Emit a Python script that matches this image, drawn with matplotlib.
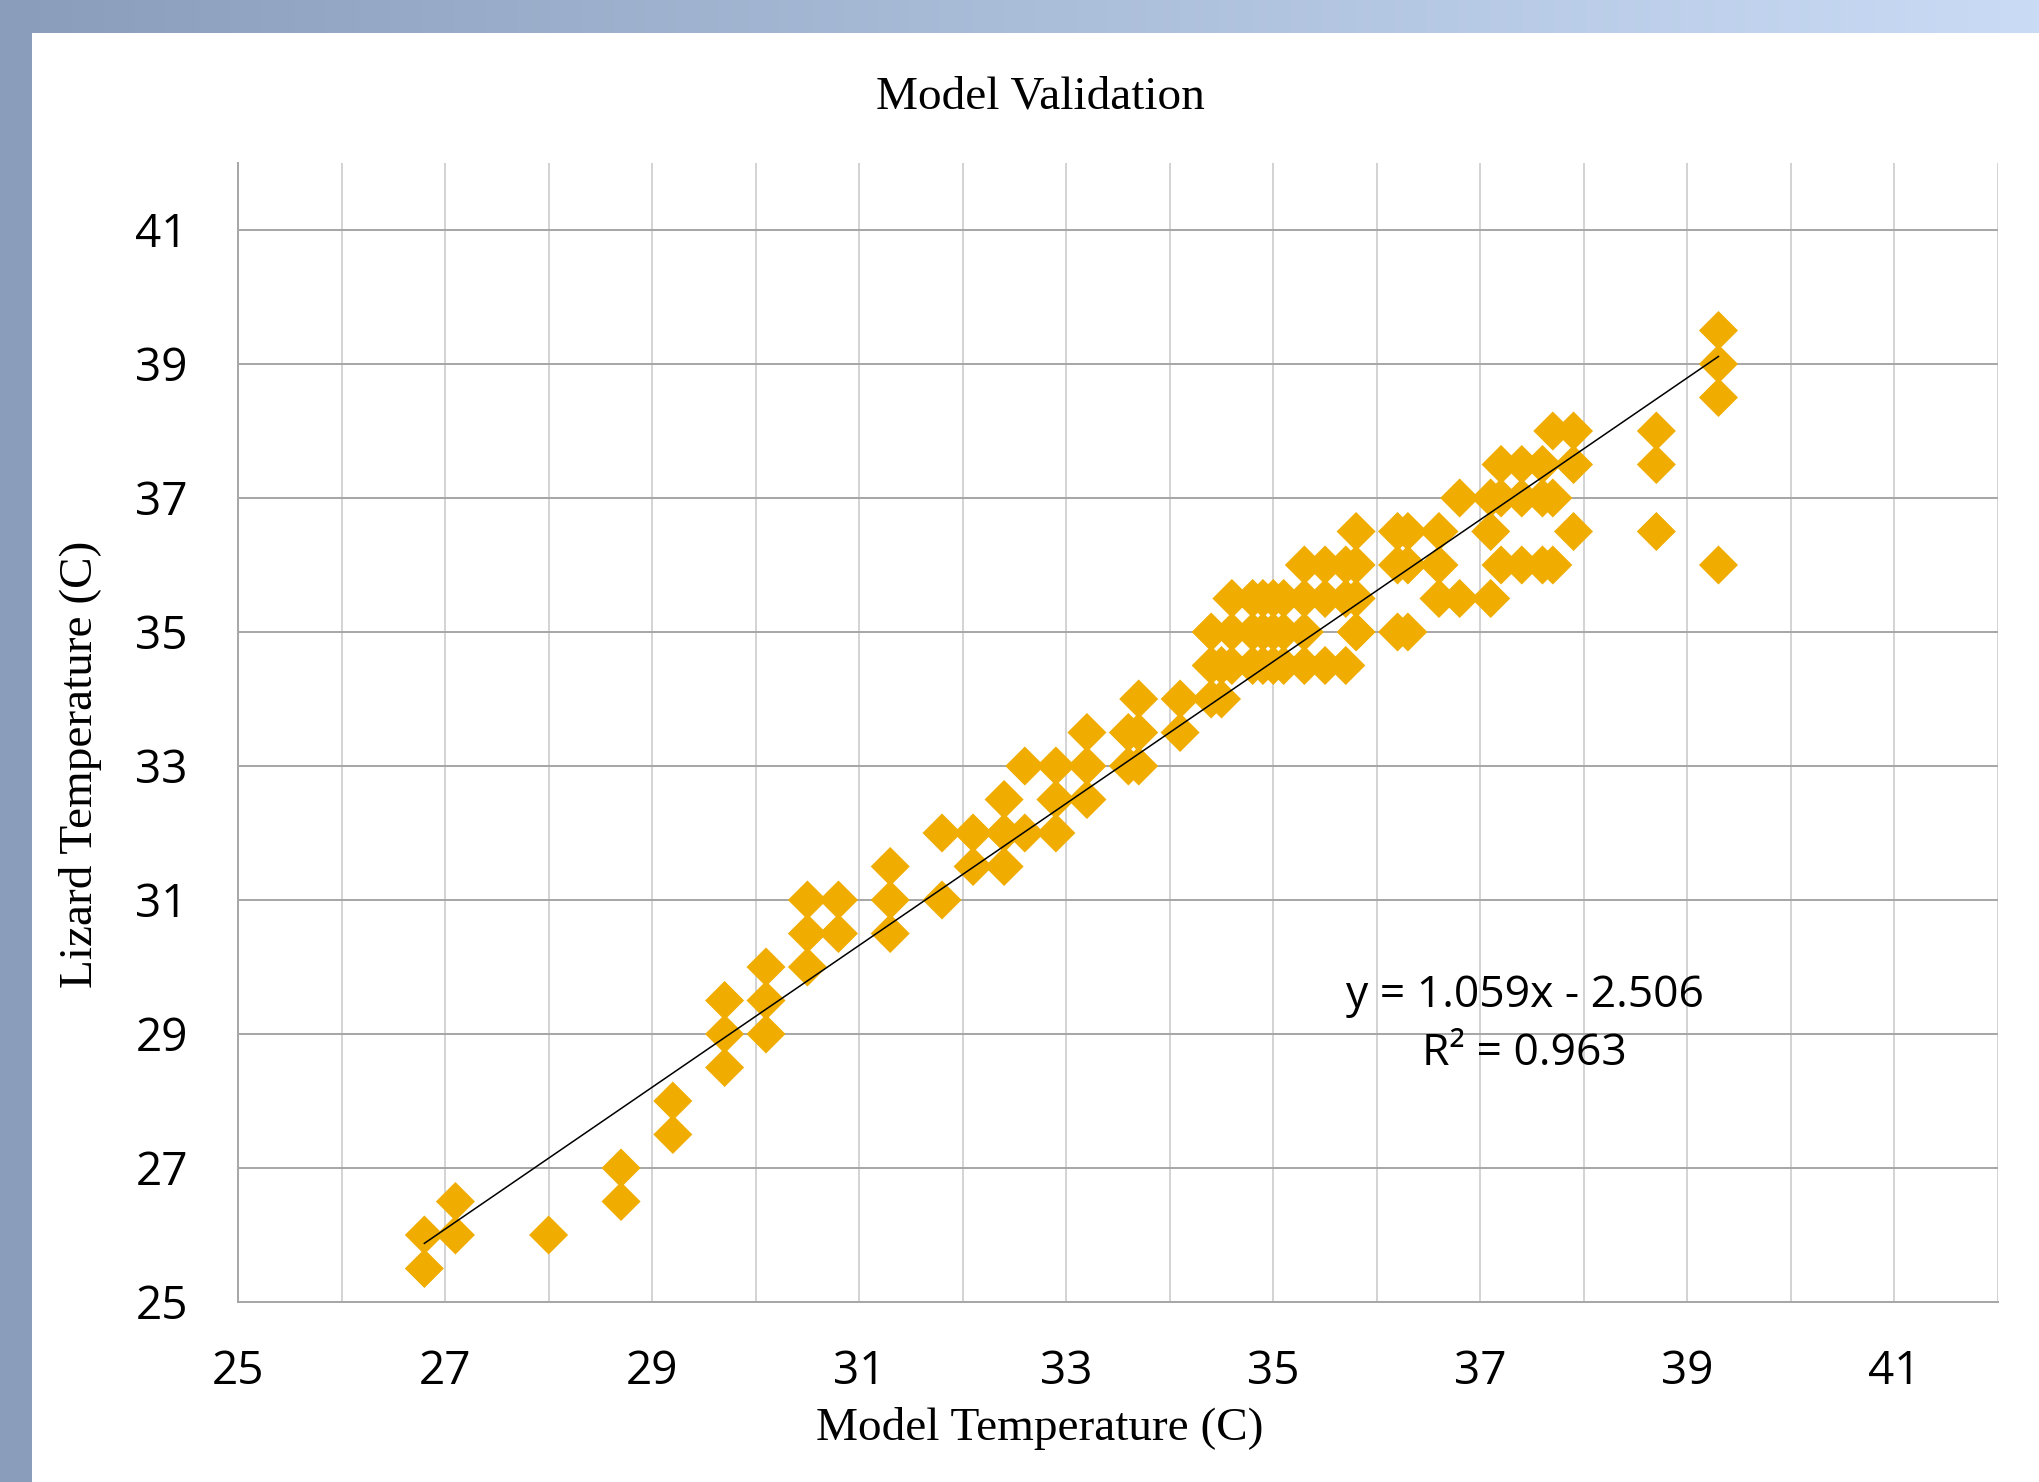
import numpy as np
import matplotlib.pyplot as plt
from matplotlib.path import Path
from matplotlib.patches import Rectangle

# model vs lizard body temperatures (C)
model_temp = [
    26.8, 26.8, 27.1, 27.1, 28.0, 28.7, 28.7, 29.2, 29.2,
    29.7, 29.7, 29.7, 30.1, 30.1, 30.1, 30.5, 30.5, 30.5, 30.8, 30.8,
    31.3, 31.3, 31.3, 31.8, 31.8, 32.1, 32.1, 32.4, 32.4, 32.4,
    32.6, 32.6, 32.9, 32.9, 32.9, 33.2, 33.2, 33.2, 33.6, 33.6,
    33.7, 33.7, 33.7, 34.1, 34.1, 34.4, 34.4, 34.4, 34.5, 34.5,
    34.6, 34.6, 34.6, 34.8, 34.8, 34.8, 34.9, 34.9, 34.9,
    35.0, 35.0, 35.0, 35.1, 35.1, 35.1, 35.3, 35.3, 35.3, 35.3,
    35.5, 35.5, 35.5, 35.7, 35.7, 35.7, 35.8, 35.8, 35.8, 35.8,
    36.2, 36.2, 36.2, 36.3, 36.3, 36.3, 36.6, 36.6, 36.6, 36.8, 36.8,
    37.1, 37.1, 37.1, 37.2, 37.2, 37.2, 37.4, 37.4, 37.4,
    37.6, 37.6, 37.6, 37.7, 37.7, 37.7, 37.9, 37.9, 37.9,
    38.7, 38.7, 38.7, 39.3, 39.3, 39.3, 39.3,
]
lizard_temp = [
    26.0, 25.5, 26.5, 26.0, 26.0, 27.0, 26.5, 28.0, 27.5,
    29.5, 29.0, 28.5, 30.0, 29.5, 29.0, 31.0, 30.5, 30.0, 31.0, 30.5,
    31.5, 31.0, 30.5, 32.0, 31.0, 32.0, 31.5, 32.5, 32.0, 31.5,
    33.0, 32.0, 33.0, 32.5, 32.0, 33.5, 33.0, 32.5, 33.5, 33.0,
    34.0, 33.5, 33.0, 34.0, 33.5, 35.0, 34.5, 34.0, 34.5, 34.0,
    35.5, 35.0, 34.5, 35.5, 35.0, 34.5, 35.5, 35.0, 34.5,
    35.5, 35.0, 34.5, 35.5, 35.0, 34.5, 36.0, 35.5, 35.0, 34.5,
    36.0, 35.5, 34.5, 36.0, 35.5, 34.5, 36.5, 36.0, 35.5, 35.0,
    36.5, 36.0, 35.0, 36.5, 36.0, 35.0, 36.5, 36.0, 35.5, 37.0, 35.5,
    37.0, 36.5, 35.5, 37.5, 37.0, 36.0, 37.5, 37.0, 36.0,
    37.5, 37.0, 36.0, 38.0, 37.0, 36.0, 38.0, 37.5, 36.5,
    38.0, 37.5, 36.5, 39.5, 39.0, 38.5, 36.0,
]

# Excel trendline reported on the chart
fit_slope = 1.059
fit_intercept = -2.506
r_squared = 0.963

x_ticks = list(range(25, 42, 2))
y_ticks = list(range(25, 42, 2))

W, H = 2040, 1482
fig = plt.figure(figsize=(W / 100, H / 100), dpi=100)
fig.patch.set_facecolor("white")

# frame decoration: left band + top gradient band
fig.patches.append(Rectangle((0, 0), 32 / W, 1, transform=fig.transFigure,
                             facecolor="#8A9EBC", edgecolor="none", zorder=0))
band = fig.add_axes([0, 1 - 33 / H, 1, 33 / H])
grad = np.linspace(0, 1, 256)[None, :, None]
c0 = np.array([138, 158, 188]) / 255
c1 = np.array([201, 219, 245]) / 255
band.imshow(c0 + (c1 - c0) * grad, aspect="auto", extent=[0, 1, 0, 1])
band.set_axis_off()

ax = fig.add_axes([238 / W, 1 - 1302 / H, (1998 - 238) / W, (1302 - 163) / H])

diamond = Path([(0, 1), (1, 0), (0, -1), (-1, 0), (0, 1)],
               [Path.MOVETO, Path.LINETO, Path.LINETO, Path.LINETO, Path.CLOSEPOLY])
ax.scatter(model_temp, lizard_temp, marker=diamond, s=790, color="#F0AD00",
           edgecolors="none", zorder=3)

# trendline over the range of the data
xs = np.array([min(model_temp), max(model_temp)])
ax.plot(xs, fit_slope * xs + fit_intercept, color="black", lw=1.1, zorder=4)

ax.set_xlim(25, 42)
ax.set_ylim(25, 42)
ax.set_xticks(x_ticks)
ax.set_xticks(range(25, 43), minor=True)
ax.set_yticks(y_ticks)
ax.set_xticklabels([str(v) for v in x_ticks])
ax.set_yticklabels([str(v) for v in y_ticks])
ax.tick_params(which="both", length=0)
ax.tick_params(axis="x", pad=34, labelsize=33)
ax.tick_params(axis="y", pad=36, labelsize=33)
for lab in ax.get_xticklabels() + ax.get_yticklabels():
    lab.set_fontfamily("Open Sans")

ax.grid(axis="x", which="both", color="#C8C8C8", lw=1.1, zorder=0)
ax.grid(axis="y", which="major", color="#A6A6A6", lw=1.4, zorder=0)
ax.set_axisbelow(True)
for side in ["top", "right"]:
    ax.spines[side].set_visible(False)
for side in ["left", "bottom"]:
    ax.spines[side].set_color("#A6A6A6")
    ax.spines[side].set_linewidth(1.4)

ax.text(37.43, 29.57, f"y = {fit_slope}x - {abs(fit_intercept)}",
        ha="center", va="center", fontsize=32, family="Open Sans", zorder=5)
ax.text(37.43, 28.70, f"R² = {r_squared}",
        ha="center", va="center", fontsize=32, family="Open Sans", zorder=5)

serif = "Liberation Serif"
fig.text(1040 / W, 1 - 97 / H, "Model Validation", ha="center", va="center",
         fontsize=34, family=serif)
fig.text(1040 / W, 1 - 1429 / H, "Model Temperature (C)", ha="center", va="center",
         fontsize=34, family=serif)
fig.text(81 / W, 1 - 764 / H, "Lizard Temperature (C)", ha="center", va="center",
         rotation=90, fontsize=34, family=serif)

fig.savefig("out.png", dpi=100)
